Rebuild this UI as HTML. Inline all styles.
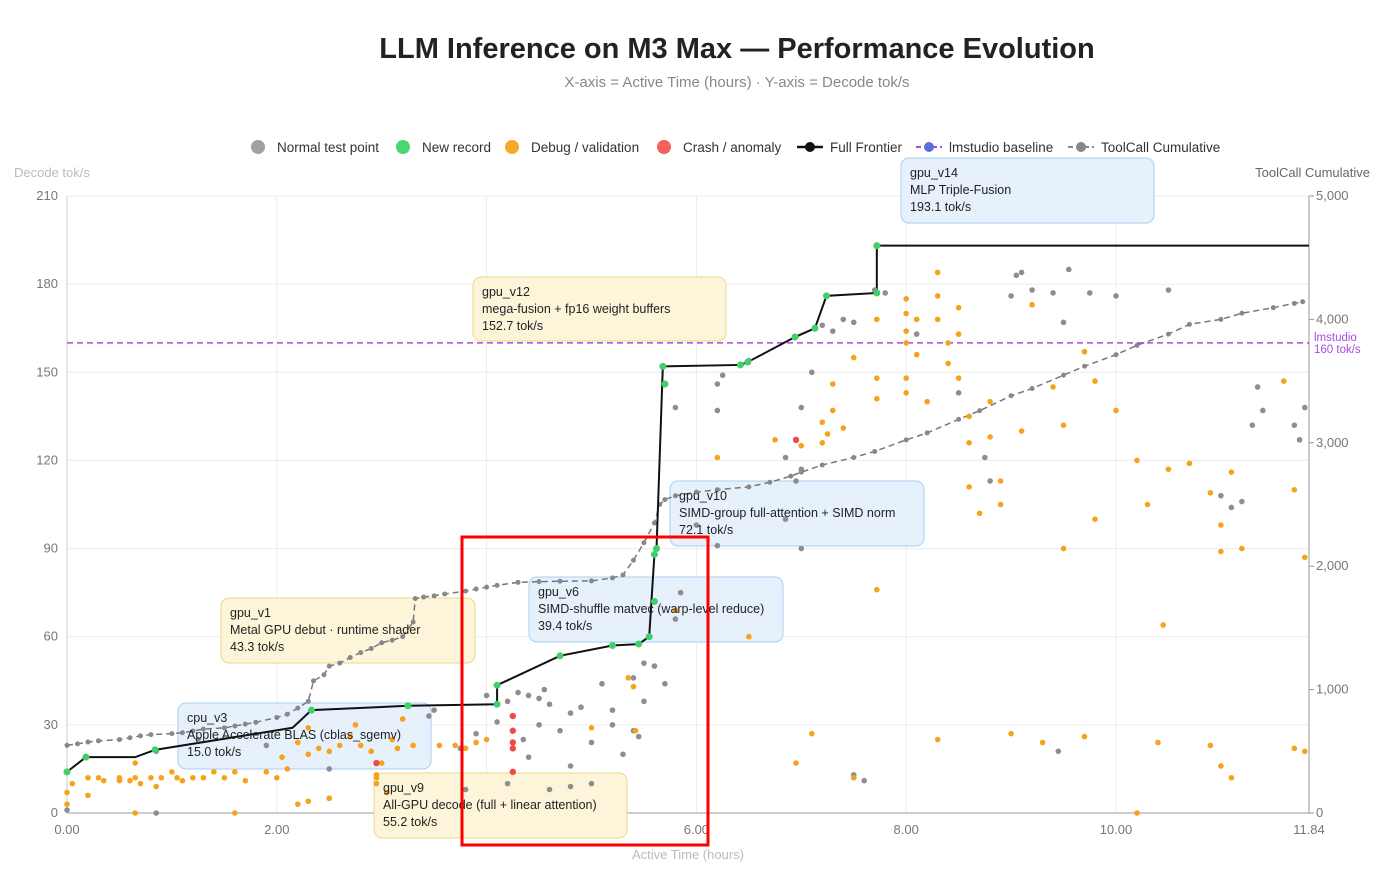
<!DOCTYPE html>
<html><head><meta charset="utf-8"><style>
body{margin:0;background:#fff;font-family:"Liberation Sans",sans-serif}
svg text{font-family:"Liberation Sans",sans-serif}
</style></head><body>
<svg id="c" width="1400" height="888">
<text x="737" y="58" text-anchor="middle" font-size="29" font-weight="bold" fill="#222">LLM Inference on M3 Max — Performance Evolution</text>
<text x="737" y="87" text-anchor="middle" font-size="15" fill="#888">X-axis = Active Time (hours) · Y-axis = Decode tok/s</text>
<g id="legend" font-size="13.5" fill="#333">
<circle cx="258" cy="147" r="7" fill="#a0a0a4"/><text x="277" y="152">Normal test point</text>
<circle cx="403" cy="147" r="7" fill="#4cd66e"/><text x="422" y="152">New record</text>
<circle cx="512" cy="147" r="7" fill="#f7a928"/><text x="531" y="152">Debug / validation</text>
<circle cx="664" cy="147" r="7" fill="#f5605a"/><text x="683" y="152">Crash / anomaly</text>
<line x1="797" y1="147" x2="823" y2="147" stroke="#111" stroke-width="2.5"/><circle cx="810" cy="147" r="5" fill="#111"/><text x="830" y="152">Full Frontier</text>
<line x1="916" y1="147" x2="942" y2="147" stroke="#a84be0" stroke-width="2" stroke-dasharray="5,3"/><circle cx="929" cy="147" r="5" fill="#5b70d6"/><text x="949" y="152">lmstudio baseline</text>
<line x1="1068" y1="147" x2="1094" y2="147" stroke="#888" stroke-width="2" stroke-dasharray="5,3"/><circle cx="1081" cy="147" r="5" fill="#888"/><text x="1101" y="152">ToolCall Cumulative</text>
</g>
<text x="14" y="177" font-size="13" fill="#bbb">Decode tok/s</text>
<text x="1370" y="177" font-size="13" fill="#666" text-anchor="end">ToolCall Cumulative</text>
<text x="688" y="859" font-size="13" fill="#bbb" text-anchor="middle">Active Time (hours)</text>
<g id="grid"></g><g id="axes"></g><g id="annbg"></g><g id="cum"></g><g id="front"></g><g id="pts"></g><g id="ann"></g>
</svg>
<script>
const xTicks=[0,2,4,6,8,10,11.84];
const yTicks=[0,30,60,90,120,150,180,210];
const y2Ticks=[0,1000,2000,3000,4000,5000];
const baseline=160;
const frontierX=[0,0.18,0.65,0.84,2.15,2.33,3.25,4.1,4.1,4.7,5.2,5.45,5.55,5.6,5.62,5.68,6.42,6.49,6.94,7.13,7.24,7.72,7.72,11.84];
const frontierY=[14,19,19,21.5,29,35,36.5,37,43.5,53.5,57,57.5,60,88,90,152,152.5,153.5,162,165,176,177,193.1,193.1];
const cumX=[0,0.1,0.2,0.3,0.5,0.6,0.7,0.8,1,1.1,1.2,1.3,1.5,1.6,1.7,1.8,2,2.1,2.2,2.3,2.35,2.45,2.5,2.6,2.7,2.8,2.9,3.0,3.1,3.2,3.3,3.32,3.4,3.5,3.6,3.8,3.9,4.0,4.1,4.3,4.5,4.7,5.0,5.2,5.3,5.4,5.5,5.6,5.65,5.7,5.8,6.0,6.2,6.5,6.7,6.9,7.0,7.2,7.5,7.7,8.0,8.2,8.5,8.7,9.0,9.2,9.5,9.7,10,10.2,10.5,10.7,11.0,11.2,11.5,11.7,11.78];
const cumY=[548,560,575,585,595,610,625,635,643,650,665,680,690,705,720,735,774,800,850,905,1071,1120,1190,1215,1260,1300,1333,1380,1400,1429,1548,1738,1750,1760,1775,1798,1815,1830,1845,1869,1875,1878,1881,1905,1929,2048,2190,2350,2500,2540,2571,2600,2620,2643,2680,2730,2762,2820,2881,2930,3024,3080,3190,3260,3381,3440,3548,3620,3714,3790,3881,3960,4000,4050,4095,4130,4143];
const orangeX=[0,0,0.05,0.2,0.2,0.3,0.35,0.5,0.5,0.6,0.65,0.65,0.7,0.8,0.85,0.9,1.0,1.05,1.1,1.2,1.3,1.4,1.5,1.6,1.7,1.9,2.0,2.05,2.1,2.3,2.2,2.3,2.4,2.5,2.6,2.7,2.75,2.8,2.9,3.0,3.1,3.15,3.2,3.3,2.5,2.3,2.2,0.65,1.6,2.95,2.95,2.95,3.05,3.55,3.7,3.8,3.9,4.0,5.0,5.4,5.35,5.42,5.8,6.5,6.2,6.75,7.2,7.3,7.3,7.2,7.25,7.4,7.0,7.5,7.72,7.72,7.72,7.72,8.0,8.0,8.0,8.0,8.0,8.0,8.1,8.1,8.2,8.3,8.3,8.3,8.4,8.4,8.5,8.5,8.5,8.6,8.6,8.6,8.7,8.8,8.8,8.9,8.9,9.1,9.2,9.4,9.5,9.7,9.8,10.0,10.2,10.3,10.5,10.7,10.9,11.0,11.1,11.0,11.2,11.6,11.7,11.8,9.0,9.3,9.7,10.4,10.9,11.0,11.1,11.7,11.8,6.95,7.1,7.5,8.3,10.2,10.45,9.5,9.8];
const orangeY=[7,3,10,12,6,12,11,11,12,11,17,12,10,12,9,12,14,12,11,12,12,14,12,14,11,14,12,19,15,29,24,20,22,21,23,26,30,23,21,17,25,22,32,23,5,4,3,0,0,10,12,13,7,23,23,22,24,25,29,43,46,28,69,60,121,127,133,137,146,126,129,131,125,155,168,148,141,76,175,170,164,160,148,143,168,156,140,176,184,168,160,153,163,172,148,135,126,111,102,140,128,113,105,130,173,145,132,157,147,137,120,105,117,119,109,98,116,89,90,147,110,87,27,24,26,24,23,16,12,22,21,17,27,12,25,0,64,90,100];
const grayX=[0,0.85,0.85,1.25,1.9,2.5,2.5,3.45,3.5,3.75,3.9,4.0,4.1,4.2,4.3,4.35,4.4,4.4,4.5,4.5,4.55,4.6,4.7,4.8,4.8,4.9,5.0,5.0,5.1,5.2,5.2,5.3,5.4,5.5,5.6,5.4,5.45,5.7,5.8,5.85,5.5,4.2,4.6,3.8,4.8,6.0,6.5,6.85,6.95,7.0,7.0,7.1,7.2,7.3,7.4,7.5,6.2,6.2,5.8,6.25,7.5,7.6,7.7,7.8,8.1,8.5,8.75,8.8,9.05,9.1,9.0,9.2,9.4,9.5,9.55,9.75,10.0,10.5,11.0,11.1,11.2,11.3,11.35,11.4,11.7,11.8,11.75,9.45,6.85,7.0,6.2];
const grayY=[1,0,21,25,23,5,15,33,35,22,27,40,31,38,41,25,19,40,39,30,42,37,28,34,16,36,24,10,44,30,35,20,46,51,50,28,26,44,66,75,38,10,8,8,9,98,154,121,113,138,117,150,166,164,168,167,137,146,138,149,13,11,178,177,163,143,121,113,183,184,176,178,177,167,185,177,176,178,108,104,106,132,145,137,132,138,127,21,100,90,91];
const redX=[2.95,4.25,4.25,4.25,4.25,4.25,6.95];
const redY=[17,33,28,22,24,14,127];
const greenX=[0,0.18,0.84,2.33,3.25,4.1,4.1,4.7,5.2,5.45,5.55,5.6,5.6,5.62,5.68,5.7,6.42,6.49,6.94,7.13,7.24,7.72,7.72];
const greenY=[14,19,21.5,35,36.5,37,43.5,53.5,57,57.5,60,72,88,90,152,146,152.5,153.5,162,165,176,177,193.1];
const L=67,R=1309,T=196,B=813;
const X=v=>L+v/11.84*(R-L), Y=v=>B-v/210*(B-T), Y2=v=>B-v/5000*(B-T);
const NS='http://www.w3.org/2000/svg';
function mk(p,t,a){const e=document.createElementNS(NS,t);for(const k in a)e.setAttribute(k,a[k]);document.getElementById(p).appendChild(e);return e;}
yTicks.forEach(v=>{const l=mk('grid','line',{x1:L,x2:R,y1:Y(v),y2:Y(v),stroke:'#ececec'});


const t=mk('axes','text',{x:L-9,y:Y(v)+4,'text-anchor':'end','font-size':13,fill:'#777'});t.textContent=v;

});
xTicks.forEach(v=>{const l=mk('grid','line',{x1:X(v),x2:X(v),y1:T,y2:B,stroke:'#ececec'});


const t=mk('axes','text',{x:X(v),y:B+21,'text-anchor':'middle','font-size':13,fill:'#777'});t.textContent=v.toFixed(2);

});
y2Ticks.forEach(v=>{const t=mk('axes','text',{x:R+7,y:Y2(v)+4,'font-size':13,fill:'#777'});t.textContent=v.toLocaleString('en-US');


mk('axes','line',{x1:R,x2:R+5,y1:Y2(v),y2:Y2(v),stroke:'#999'});});
mk('axes','line',{x1:L,x2:L,y1:T,y2:B,stroke:'#ccc'});
mk('axes','line',{x1:L,x2:R,y1:B,y2:B,stroke:'#999'});
mk('axes','line',{x1:R,x2:R,y1:T,y2:B,stroke:'#999'});
const anns=[[901,158,253,65,'b','gpu_v14','MLP Triple-Fusion','193.1 tok/s'],
[473,277,253,64,'y','gpu_v12','mega-fusion + fp16 weight buffers','152.7 tok/s'],
[670,481,254,65,'b','gpu_v10','SIMD-group full-attention + SIMD norm','72.1 tok/s'],
[529,577,254,65,'b','gpu_v6','SIMD-shuffle matvec (warp-level reduce)','39.4 tok/s'],
[221,598,254,65,'y','gpu_v1','Metal GPU debut · runtime shader','43.3 tok/s'],
[178,703,253,66,'b','cpu_v3','Apple Accelerate BLAS (cblas_sgemv)','15.0 tok/s'],
[374,773,253,65,'y','gpu_v9','All-GPU decode (full + linear attention)','55.2 tok/s']];
anns.forEach(a=>{const b=a[4]=='b';
const r=mk('annbg','rect',{x:a[0],y:a[1],width:a[2],height:a[3],rx:8,fill:b?'#e6f1fc':'#fdf5da',stroke:b?'#a8cff3':'#f0d68a'});


[a[5],a[6],a[7]].forEach((s,i)=>{const t=mk('ann','text',{x:a[0]+9,y:a[1]+19+i*17,'font-size':12.5,fill:'#222'});t.textContent=s;

});});
const bl=mk('front','line',{x1:L,x2:R,y1:Y(baseline),y2:Y(baseline),stroke:'#a84be0','stroke-width':1.5,'stroke-dasharray':'6,4'});


const bt=mk('front','text',{x:R+5,y:Y(baseline)-2,'font-size':11.5,fill:'#a84be0'});bt.innerHTML='<tspan x="'+(R+5)+'">lmstudio</tspan><tspan x="'+(R+5)+'" dy="12">'+baseline+' tok/s</tspan>';


const cp=mk('cum','polyline',{points:cumX.map((x,i)=>X(x)+','+Y2(cumY[i])).join(' '),fill:'none',stroke:'#777','stroke-width':1.5,'stroke-dasharray':'6,4'});


cumX.forEach((x,i)=>{const c=mk('cum','circle',{cx:X(x),cy:Y2(cumY[i]),r:2.5,fill:'#888'});

});
const fp=mk('front','polyline',{points:frontierX.map((x,i)=>X(x)+','+Y(frontierY[i])).join(' '),fill:'none',stroke:'#111','stroke-width':2});


function pts(xs,ys,col,name,r){xs.forEach((x,i)=>{const c=mk('pts','circle',{cx:X(x),cy:Y(ys[i]),r:r,fill:col});

});}
pts(grayX,grayY,'#8e8e92','normal-test-point',2.8);
pts(orangeX,orangeY,'#f7a21b','debug-point',2.8);
pts(redX,redY,'#f04a46','crash-point',3.2);
pts(greenX,greenY,'#3fd06a','new-record-point',3.5);
const hl=mk('ann','rect',{x:462,y:537,width:246,height:308,fill:'none',stroke:'#f00','stroke-width':3});


</script>
</body></html>
